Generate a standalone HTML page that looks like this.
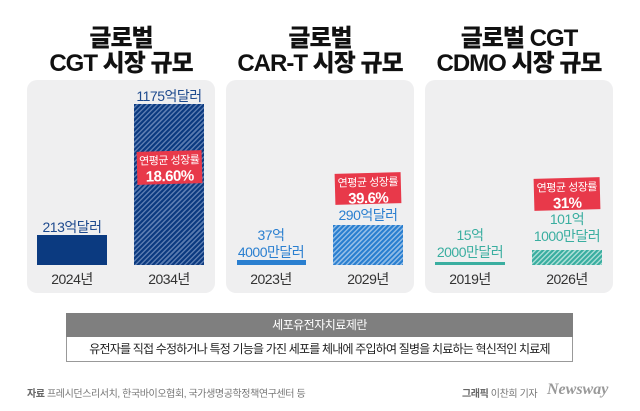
<!DOCTYPE html>
<html><head><meta charset="utf-8">
<style>
*{margin:0;padding:0;box-sizing:border-box}
body{width:640px;height:411px;background:#fff;position:relative;overflow:hidden;font-family:"Liberation Sans","Noto Sans CJK KR",sans-serif}
.a{position:absolute}
.t{position:absolute;text-align:center;font-weight:900;font-size:24px;line-height:25px;color:#111;letter-spacing:-1px}
.p{position:absolute;top:80px;height:213px;width:188px;background:#efeff0;border-radius:10px}
.c{position:absolute;text-align:center;white-space:nowrap;transform:translateX(-50%);letter-spacing:-0.5px}
.yr{font-size:14px;color:#333;top:269px}
.v{font-size:14px;line-height:17px}
.rb{position:absolute;background:#e8394a;color:#fff;text-align:center;transform:rotate(-1.5deg);line-height:14px;padding-top:2px;letter-spacing:-0.5px}
.rb b{font-size:15px;display:block;line-height:17px}
.rb span{font-size:11px}
</style></head><body>
<div class="t" style="left:27px;width:188px;top:26px">글로벌<br>CGT 시장 규모</div>
<div class="t" style="left:226px;width:188px;top:26px">글로벌<br>CAR-T 시장 규모</div>
<div class="t" style="left:425px;width:188px;top:26px">글로벌 CGT<br>CDMO 시장 규모</div>

<div class="p" style="left:27px"></div>
<div class="p" style="left:226px"></div>
<div class="p" style="left:425px"></div>

<div class="a" style="left:37px;top:235px;width:70px;height:30px;background:#0b3a80"></div>
<div class="a" style="left:134px;top:104px;width:70px;height:161px;background:repeating-linear-gradient(135deg,#0b3a80 0 2px,#5a7bb0 2px 3.5px)"></div>
<div class="c v" style="left:72px;top:219px;color:#1e4a8e">213억달러</div>
<div class="c v" style="left:169px;top:88px;color:#1e4a8e">1175억달러</div>
<div class="rb" style="left:137px;top:151px;width:65px;height:33px"><span>연평균 성장률</span><b>18.60%</b></div>
<div class="c yr" style="left:72px">2024년</div>
<div class="c yr" style="left:169px">2034년</div>

<div class="a" style="left:237px;top:260px;width:69px;height:5px;background:#2a7fd0"></div>
<div class="a" style="left:333px;top:225px;width:70px;height:40px;background:repeating-linear-gradient(135deg,#2a7fd0 0 2px,#8fbbe6 2px 3.5px)"></div>
<div class="c v" style="left:271px;top:227px;color:#2a7fd0">37억<br>4000만달러</div>
<div class="c v" style="left:368px;top:207px;color:#2a7fd0">290억달러</div>
<div class="rb" style="left:335px;top:173px;width:66px;height:31px"><span>연평균 성장률</span><b>39.6%</b></div>
<div class="c yr" style="left:271px">2023년</div>
<div class="c yr" style="left:368px">2029년</div>

<div class="a" style="left:435px;top:262px;width:70px;height:3px;background:#3aaea0"></div>
<div class="a" style="left:532px;top:250px;width:70px;height:15px;background:repeating-linear-gradient(135deg,#3aaea0 0 2px,#a6dcd4 2px 3.5px)"></div>
<div class="c v" style="left:470px;top:227px;color:#3aaea0">15억<br>2000만달러</div>
<div class="c v" style="left:567px;top:211px;color:#3aaea0">101억<br>1000만달러</div>
<div class="rb" style="left:534px;top:178px;width:66px;height:32px"><span>연평균 성장률</span><b>31%</b></div>
<div class="c yr" style="left:470px">2019년</div>
<div class="c yr" style="left:567px">2026년</div>

<div class="a" style="left:66px;top:313px;width:507px;height:49px;border:1px solid #999;background:#fff"></div>
<div class="a" style="left:66px;top:313px;width:507px;height:24px;background:#7f7f7f;color:#fff;font-size:12px;line-height:24px;text-align:center;letter-spacing:-0.5px">세포유전자치료제란</div>
<div class="a" style="left:66px;top:337px;width:507px;height:25px;color:#222;font-size:12px;line-height:25px;text-align:center;letter-spacing:-0.8px;white-space:nowrap">유전자를 직접 수정하거나 특정 기능을 가진 세포를 체내에 주입하여 질병을 치료하는 혁신적인 치료제</div>

<div class="a" style="left:27px;top:385px;font-size:10px;color:#777;letter-spacing:-0.4px"><b style="color:#666">자료</b> 프레시던스리서치, 한국바이오협회, 국가생명공학정책연구센터 등</div>
<div class="a" style="left:462px;top:385px;font-size:10px;color:#777;letter-spacing:-0.4px"><b style="color:#666">그래픽</b> 이찬희 기자</div>
<div class="a" style="left:547px;top:381px;font-size:16px;font-style:italic;font-weight:bold;color:#999;font-family:'Liberation Serif',serif">Newsway</div>
</body></html>
